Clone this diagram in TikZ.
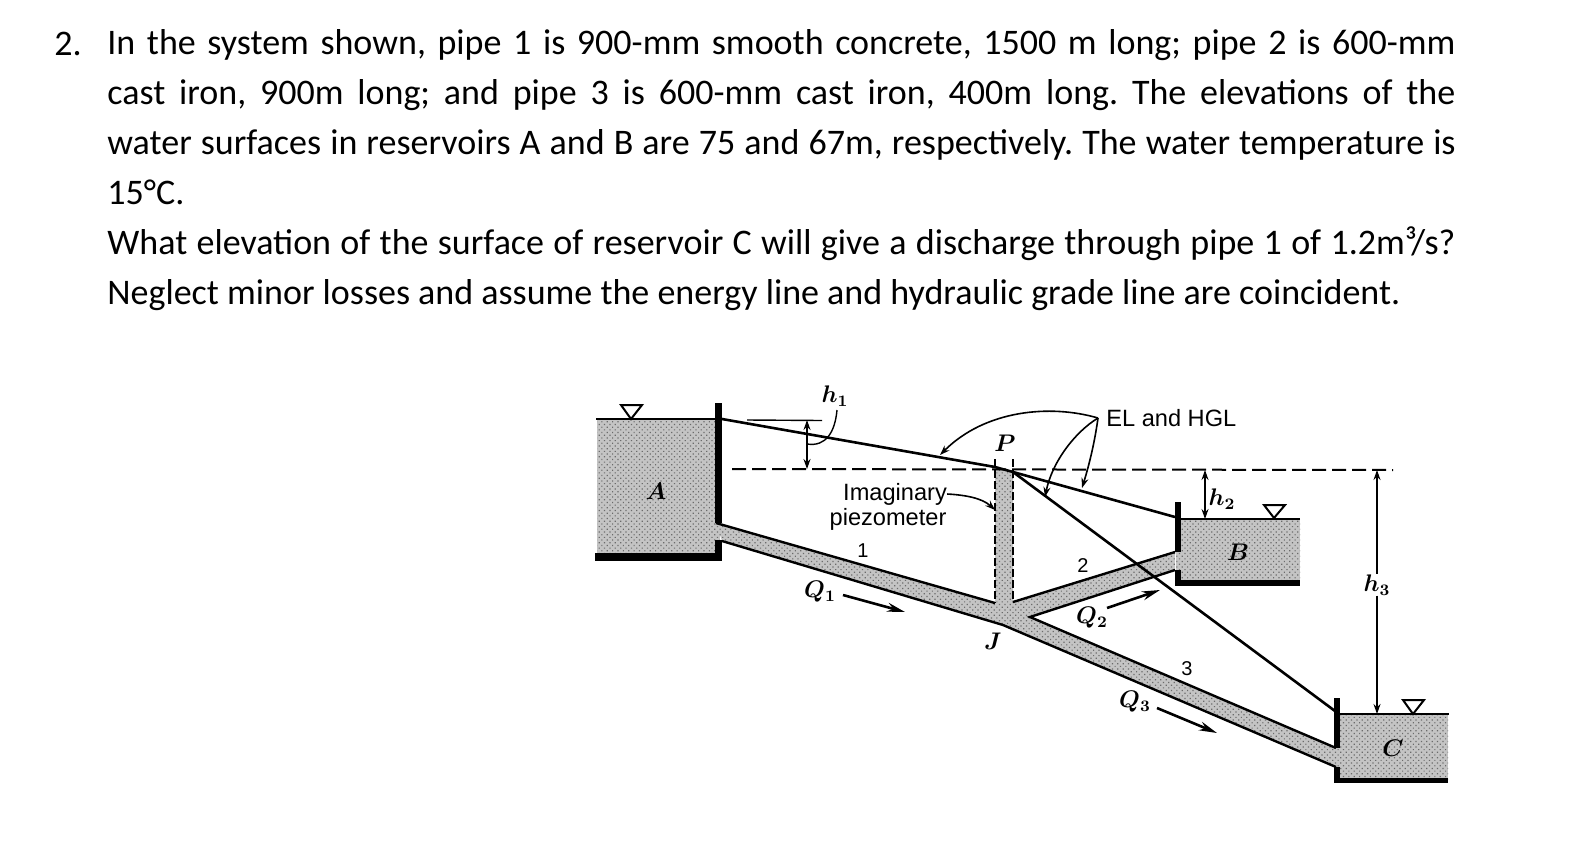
\documentclass[tikz,border=0pt]{standalone}
\usepackage{fontspec}
\setmainfont{Carlito}
\newfontfamily\figfont{Liberation Sans}
\usetikzlibrary{
    arrows.meta,
    calc,
    patterns.meta,
    positioning
}
\definecolor{waterbase}{gray}{0.77}
\definecolor{waterdots}{gray}{0.42}
\tikzset{
    water/.style={preaction={fill=waterbase}, pattern={Dots[radius=0.42pt, distance=1.9pt, angle=45]}, pattern color=waterdots},
    wall/.style={draw=none, fill=black},
    surf/.style={line width=1pt},
    edgeline/.style={line width=1.2pt},
    grade/.style={line width=1.3pt},
    datum/.style={line width=1pt, dash pattern=on 7pt off 3pt},
    gauge/.style={line width=0.9pt, dash pattern=on 4pt off 1.5pt},
    dim/.style={line width=0.6pt, {Stealth[length=5pt, width=3.5pt]}-{Stealth[length=5pt, width=3.5pt]}},
    leader/.style={line width=0.8pt, -{Stealth[length=5pt, width=3.5pt]}},
    flow/.style={line width=1.3pt, -{Stealth[length=9pt, width=4.5pt]}},
    sym/.style={inner sep=0pt, font=\fontsize{12}{14}\selectfont\boldmath},
    num/.style={inner sep=0pt, font=\figfont\fontsize{10}{12}\selectfont},
    figtext/.style={inner sep=0pt, font=\figfont\fontsize{11.8}{13}\selectfont},
    para/.style={inner sep=0pt, anchor=north west, font=\fontsize{18}{25}\selectfont\frenchspacing}
}
\begin{document}
\begin{tikzpicture}[x=0.5pt, y=-0.5pt]
    \useasboundingbox (0,0) rectangle (1573,841);
    \node[para] (num2) at (54,32) {2.};
    \node[para, text width=674pt, align=justify] (problem) at (107,29) {In the system shown, pipe 1 is 900-mm smooth concrete, 1500 m long; pipe 2 is 600-mm\linebreak
    cast iron, 900m long; and pipe 3 is 600-mm cast iron, 400m long. The elevations of the\linebreak
    water surfaces in reservoirs A and B are 75 and 67m, respectively. The water temperature is\linebreak
    15°C.\newline
    What elevation of the surface of reservoir C will give a discharge through pipe 1 of 1.2m³/s?\linebreak
    Neglect minor losses and assume the energy line and hydraulic grade line are coincident.};

    \coordinate (P) at (1013,472);
    \coordinate (Pl) at (995,467);
    \coordinate (endA) at (722,419);
    \coordinate (endB) at (1175,517);
    \coordinate (endC) at (1335,711);
    \coordinate (tipEL) at (1098,418);

    \fill[water] (597,419) rectangle (720,554);
    \fill[water] (1176,519) rectangle (1300,581);
    \fill[water] (1335,714) rectangle (1448,779);
    \fill[water] (716,523) -- (995,603) -- (995,470) -- (1013,470) -- (1013,602) -- (1175,552) -- (1175,570) -- (1030,617) -- (1336,748) -- (1336,767) -- (1003,625) -- (722,541) -- cycle;

    \fill[wall] (715,403) rectangle (722,523);
    \fill[wall] (715,540) rectangle (722,561);
    \fill[wall] (595,553) rectangle (722,561);
    \fill[wall] (1175,502) rectangle (1181,552);
    \fill[wall] (1175,570) rectangle (1181,586);
    \fill[wall] (1175,580) rectangle (1300,586);
    \fill[wall] (1334,698) rectangle (1340,748);
    \fill[wall] (1334,767) rectangle (1340,783);
    \fill[wall] (1334,778) rectangle (1448,783);

    \draw[surf] (596,419) -- (716,419);
    \draw[surf] (1180,519) -- (1300,519);
    \draw[surf] (1338,714) -- (1449,714);
    \draw[surf] (621,405) -- (642,405) -- (631,419) -- cycle;
    \draw[surf] (1264,505) -- (1285,505) -- (1274,518) -- cycle;
    \draw[surf] (1403,700) -- (1424,700) -- (1413,714) -- cycle;

    \draw[edgeline] (716,523) -- (995,603);
    \draw[edgeline] (722,541) -- (1003,625) -- (1336,767);
    \draw[edgeline] (1013,602) -- (1175,552);
    \draw[edgeline] (1175,570) -- (1030,617) -- (1336,748);
    \draw[gauge] (995,459) -- (995,603);
    \draw[gauge] (1013,459) -- (1013,602);

    \draw[datum] (732,469) -- (1393,470);
    \draw[grade] (endA) -- (Pl) -- (P);
    \draw[grade] (P) -- (endB);
    \draw[grade] (P) -- (endC);

    \draw[line width=0.7pt] (747,420) -- (822,420.5);
    \draw[dim] (807,420) -- (807,469);
    \draw[dim] (1205,470) -- (1205,519);
    \node[sym] (hone) at (835,396) {$h_1$};
    \node[sym] (htwo) at (1222,499) {$h_2$};
    \node[sym] (hthree) at (1377,585) {$h_3$};
    \coordinate (topthree) at (1377,470);
    \coordinate (botthree) at (1377,714);
    \draw[line width=0.6pt, {Stealth[length=5pt, width=3.5pt]}-] (topthree) -- (hthree.north);
    \draw[line width=0.6pt, -{Stealth[length=5pt, width=3.5pt]}] (hthree.south) -- (botthree);
    \draw[line width=0.7pt] (837,410) .. controls (835,432) and (826,447) .. (807,444);

    \node[figtext] (imag) at (895,494) {Imaginary};
    \node[figtext] (piezo) at (888,519) {piezometer};
    \draw[leader] (imag.east) .. controls (965,495) and (982,498) .. (995,510);
    \node[figtext, anchor=west] (el) at (1106,418) {EL and HGL};
    \draw[leader] (tipEL) .. controls (1050,404) and (985,410) .. (940,455);
    \draw[leader] (tipEL) .. controls (1075,432) and (1052,462) .. (1045,497);
    \draw[leader] (tipEL) .. controls (1095,440) and (1090,462) .. (1082,488);

    \node[sym] (labA) at (656,491) {$A$};
    \node[sym] (labB) at (1238,552) {$B$};
    \node[sym] (labC) at (1393,748) {$C$};
    \node[sym] (labP) at (1005,443) {$P$};
    \node[sym] (labJ) at (993,641) {$J$};
    \node[num] (pipeone) at (863,551) {1};
    \node[num] (pipetwo) at (1083,566) {2};
    \node[num] (pipethree) at (1187,669) {3};
    \node[sym] (Qone) at (820,592) {$Q_1$};
    \node[sym] (Qtwo) at (1092,618) {$Q_2$};
    \node[sym] (Qthree) at (1135,702) {$Q_3$};
    \coordinate (Qoneend) at (905,612);
    \coordinate (Qtwoend) at (1160,590);
    \coordinate (Qthreeend) at (1217,733);
    \draw[flow] (843,595) -- (Qoneend);
    \draw[flow] (1107,608) -- (Qtwoend);
    \draw[flow] (1157,708) -- (Qthreeend);
\end{tikzpicture}
\end{document}
